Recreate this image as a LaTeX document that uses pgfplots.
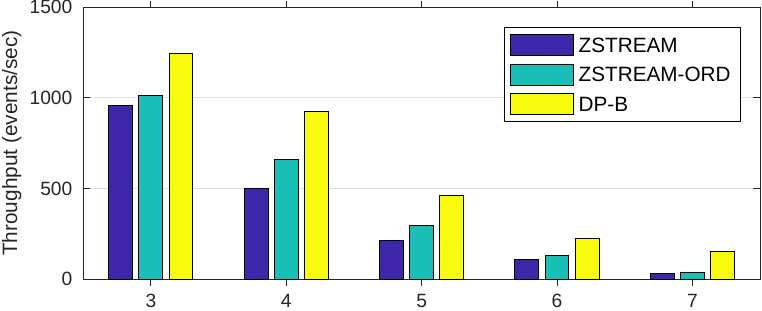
\documentclass[border=0pt]{standalone}
\usepackage{pgfplots}
\pgfplotsset{compat=1.18}
\usepackage{fontspec}
\setmainfont{Liberation Sans}
\definecolor{zs}{HTML}{3E26A8}
\definecolor{zo}{HTML}{19BFB5}
\definecolor{dp}{HTML}{F9FB0E}
\definecolor{axc}{HTML}{262626}
\definecolor{gridc}{HTML}{E0E0E0}
\pgfplotsset{layers/mylayers/.define layer set={axis background,axis grid,main,axis ticks,axis lines,axis tick labels,axis descriptions,axis foreground}{}}
\pgfplotsset{
  mybar/.style={draw=black, line width=0.5pt, fill=#1,
    legend image code/.code={\draw[##1, line width=0.5pt] (0pt,-5.25pt) rectangle (31.5pt,5.25pt);}},
}
\begin{document}
\begin{tikzpicture}
\begin{axis}[
  name=ax,
  set layers=mylayers,
  scale only axis, width=338.35pt, height=135.85pt,
  xmin=2.5, xmax=7.5, ymin=0, ymax=1500,
  xtick={3,4,5,6,7}, ytick={0,500,1000,1500},
  ymajorgrids, major grid style={gridc, line width=0.5pt},
  tick align=inside, major tick length=3.35pt,
  tick style={axc, line width=0.5pt},
  axis line style={axc, line width=0.5pt},
  /pgf/number format/assume math mode=true,
  /pgf/number format/set thousands separator={},
  ticklabel style={font=\fontsize{9.6}{11}\selectfont, text=axc},
  xticklabel style={anchor=north, inner sep=0pt, yshift=-3.9pt},
  yticklabel style={anchor=east, inner sep=0pt, xshift=-5.3pt},
  ylabel={Throughput (events/sec)},
  ylabel style={at={(axis description cs:-0.12059,0.5)}, rotate=0, anchor=north, inner sep=0pt, font=\fontsize{10.4}{12}\selectfont, text=axc},
  ybar, bar width=0.177,
  legend style={at={(rel axis cs:1,1)}, xshift=-9.35pt, yshift=-10pt, anchor=north east,
    draw=black, line width=0.5pt, fill=white, inner xsep=2.85pt, inner ysep=3.125pt,
    row sep=3.8pt, column sep=2.5pt,
    nodes={inner sep=0pt, text height=8.83pt, text depth=1.67pt, font=\fontsize{10.35}{12}\selectfont, text=black}},
  legend cell align=left,
]
\addplot[mybar=zs, bar shift=-0.222] coordinates {(3,956) (4,502) (5,210) (6,105) (7,31)};
\addplot[mybar=zo, bar shift=0] coordinates {(3,1011) (4,662) (5,297) (6,131) (7,37)};
\addplot[mybar=dp, bar shift=0.222] coordinates {(3,1243) (4,922) (5,463) (6,225) (7,153)};
\legend{ZSTREAM,ZSTREAM-ORD\hspace*{2.3pt},DP-B}
\end{axis}
\pgfresetboundingbox
\path ([shift={(-41.65pt,-15.5pt)}]ax.south west) rectangle ([shift={(1pt,3.65pt)}]ax.north east);
\end{tikzpicture}
\end{document}
